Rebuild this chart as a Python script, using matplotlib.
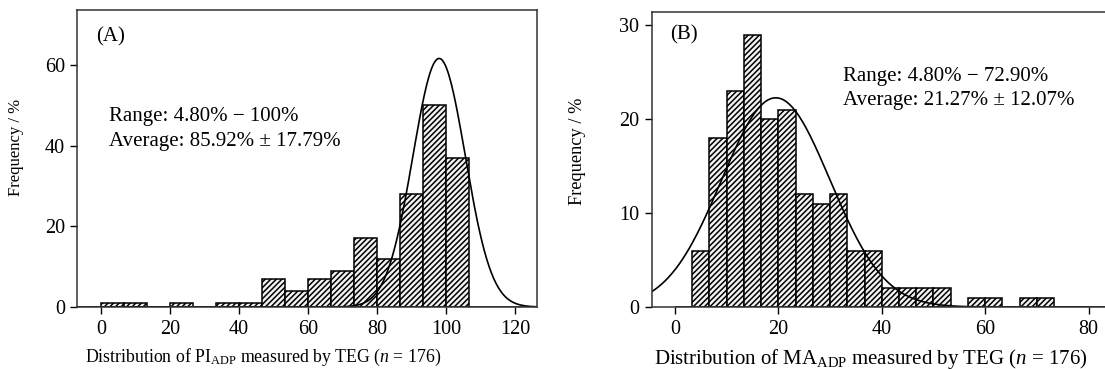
import numpy as np
import matplotlib
matplotlib.use("Agg")
import matplotlib.pyplot as plt

plt.rcParams['font.family'] = ['Liberation Serif', 'DejaVu Serif']
plt.rcParams['mathtext.fontset'] = 'custom'
plt.rcParams['mathtext.rm'] = 'Liberation Serif'
plt.rcParams['mathtext.it'] = 'Liberation Serif:italic'
plt.rcParams['hatch.linewidth'] = 1.1
plt.rcParams['hatch.color'] = '#1a1a1a'

# (A) PI_ADP histogram, bin width 20/3
pi_edges = np.arange(0, 21) * (20 / 3)
pi_counts = [1, 1, 0, 1, 0, 1, 1, 7, 4, 7, 9, 17, 12, 28, 50, 37, 0, 0, 0, 0]
pi_mu, pi_sd = 98.0, 7.6          # fitted normal

# (B) MA_ADP histogram, bin width 10/3
ma_edges = np.arange(0, 25) * (10 / 3)
ma_counts = [0, 6, 18, 23, 29, 20, 21, 12, 11, 12, 6, 6, 2, 2, 2, 2, 0, 1, 1, 0, 1, 1, 0, 0]
ma_mu, ma_sd = 19.5, 10.5

n_total = 176

fig = plt.figure(figsize=(11.05, 3.69), dpi=100)
ax1 = fig.add_axes([0.0701, 0.168, 0.4163, 0.805])
ax2 = fig.add_axes([0.5898, 0.168, 0.4112, 0.800])


def draw(ax, edges, counts, mu, sd, xlim, ylim, xticks, yticks):
    width = edges[1] - edges[0]
    ax.bar(edges[:-1], counts, width=width, align='edge', color='#f2f2f2',
           edgecolor='black', hatch='//////', linewidth=1.1)
    x = np.linspace(xlim[0], xlim[1], 400)
    y = n_total * width / (sd * np.sqrt(2 * np.pi)) * np.exp(-(x - mu) ** 2 / (2 * sd ** 2))
    ax.plot(x, y, color='black', lw=1.2)
    ax.set_xlim(xlim)
    ax.set_ylim(ylim)
    ax.set_xticks(xticks)
    ax.set_yticks(yticks)
    ax.tick_params(direction='out', length=5, width=1, labelsize=14.5, pad=4)
    for s in ax.spines.values():
        s.set_linewidth(1.1)
        s.set_color('#333333')


draw(ax1, pi_edges, pi_counts, pi_mu, pi_sd, (-6.8, 126.5), (0, 73.6),
     [0, 20, 40, 60, 80, 100, 120], [0, 20, 40, 60])
draw(ax2, ma_edges, ma_counts, ma_mu, ma_sd, (-4.5, 83.4), (0, 31.45),
     [0, 20, 40, 60, 80], [0, 10, 20, 30])

ax1.set_ylabel('Frequency / %', fontsize=12)
ax2.set_ylabel('Frequency / %', fontsize=13.2)
ax1.set_xlabel(r'Distribution of PI$_{\mathrm{ADP}}$ measured by TEG ($n$ = 176)', fontsize=12.8)
ax2.set_xlabel(r'Distribution of MA$_{\mathrm{ADP}}$ measured by TEG ($n$ = 176)', fontsize=15)
ax1.xaxis.set_label_coords(0.404, -0.135)
ax2.xaxis.set_label_coords(0.483, -0.135)
ax1.yaxis.set_label_coords(-0.116, 0.537)
ax2.yaxis.set_label_coords(-0.145, 0.527)

ax1.text(0.04, 0.909, '(A)', transform=ax1.transAxes, fontsize=15, va='center')
ax1.text(0.068, 0.643, 'Range: 4.80% − 100%', transform=ax1.transAxes, fontsize=15, va='center')
ax1.text(0.068, 0.557, 'Average: 85.92% ± 17.79%', transform=ax1.transAxes, fontsize=15, va='center')

ax2.text(0.040, 0.921, '(B)', transform=ax2.transAxes, fontsize=15, va='center')
ax2.text(0.422, 0.780, 'Range: 4.80% − 72.90%', transform=ax2.transAxes, fontsize=15, va='center')
ax2.text(0.422, 0.701, 'Average: 21.27% ± 12.07%', transform=ax2.transAxes, fontsize=15, va='center')

fig.savefig('out.png', dpi=100)
